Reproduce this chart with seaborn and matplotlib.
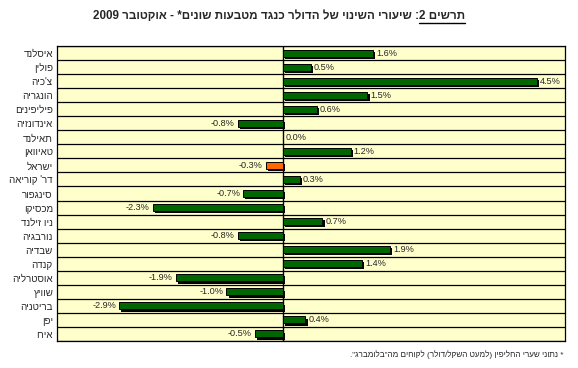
import re
import numpy as np
import pandas as pd
import seaborn as sns
import matplotlib
matplotlib.use("Agg")
import matplotlib.pyplot as plt
import matplotlib.patheffects as pe
from matplotlib.lines import Line2D

countries = ["איסלנד", "פולין", "צ'כיה", "הונגריה", "פיליפינים", "אינדונזיה", "תאילנד",
             "טאיוואן", "ישראל", "דר' קוריאה", "סינגפור", "מכסיקו", "ניו זילנד", "נורבגיה",
             "שבדיה", "קנדה", "אוסטרליה", "שוויץ", "בריטניה", "יפן", "אירו"]
changes = [1.6, 0.5, 4.5, 1.5, 0.6, -0.8, 0.0, 1.2, -0.3, 0.3, -0.7, -2.3, 0.7, -0.8,
           1.9, 1.4, -1.9, -1.0, -2.9, 0.4, -0.5]
highlight = "ישראל"
title_prefix = "תרשים 2"
title_rest = ": שיעורי השינוי של הדולר כנגד מטבעות שונים* - אוקטובר 2009"
footnote = "* נתוני שערי החליפין (למעט השקל/דולר) לקוחים מה\"בלומברג\"."

MIRROR = {"(": ")", ")": "(", "[": "]", "]": "["}


def vis(s):
    """Convert logical-order Hebrew text to visual (left-to-right) order."""
    r = "".join(MIRROR.get(c, c) for c in s[::-1])
    return re.sub(r"[0-9A-Za-z.,%/]*[0-9A-Za-z]", lambda m: m.group(0)[::-1], r)


sns.set_theme(style="white")
FAM = ["Liberation Sans", "DejaVu Sans"]
plt.rcParams["font.family"] = FAM

W, H = 578, 368
fig = plt.figure(figsize=(W / 100, H / 100), dpi=100)
fig.patch.set_facecolor("white")
ax = fig.add_axes([57 / W, (H - 341) / H, (565 - 57) / W, (341 - 46) / H])
ax.set_facecolor("#FFFFCC")

df = pd.DataFrame({"country": countries, "change": changes})
palette = ["#FF6600" if c == highlight else "#006600" for c in countries]
sns.barplot(data=df, y="country", x="change", hue="country", palette=palette,
            legend=False, orient="h", width=0.5, edgecolor="black", linewidth=0.7,
            saturation=1, ax=ax, zorder=3)

for p in ax.patches:
    p.set_path_effects([pe.SimplePatchShadow(offset=(1.6, -1.6), shadow_rgbFace="black", alpha=1.0),
                        pe.Normal()])

n = len(countries)
ax.set_xlim(-4, 5)
ax.set_ylim(n - 0.5, -0.5)
for i in range(n + 1):
    ax.axhline(i - 0.5, color="black", lw=0.9, zorder=1)
ax.axvline(0, color="black", lw=1.0, zorder=2)

ax.set_yticks(range(n))
ax.set_yticklabels([vis(c) for c in countries], fontsize=7)
ax.tick_params(axis="y", length=0, pad=3)
ax.set_xticks([])
ax.set_xlabel("")
ax.set_ylabel("")
for s in ax.spines.values():
    s.set_visible(True)
    s.set_color("black")
    s.set_linewidth(0.9)

for i, v in enumerate(changes):
    if v >= 0:
        ax.annotate(f"{v:.1f}%", xy=(v, i), xytext=(2.2, 0), textcoords="offset points",
                    ha="left", va="center", fontsize=6.6, zorder=5)
    else:
        ax.annotate(f"{v:.1f}%", xy=(v, i), xytext=(-2.2, 0), textcoords="offset points",
                    ha="right", va="center", fontsize=6.6, zorder=5)

# Title (visual order), with underlined prefix on the right
TY = 1 - 16 / H
t_right = fig.text(465 / W, TY, vis(title_prefix), ha="right", va="center",
                   fontsize=8.4, fontweight="bold")
t_left = fig.text(0, TY, vis(title_rest), fontsize=8.4, fontweight="bold",
                  ha="right", va="center")
fig.canvas.draw()
r = fig.canvas.get_renderer()
bb = t_right.get_window_extent(r)
t_left.set_position((bb.x0 / W, TY))
y_ul = (bb.y0 - 0.5) / H
fig.add_artist(Line2D([bb.x0 / W, bb.x1 / W], [y_ul, y_ul], color="black", lw=1.0,
                      transform=fig.transFigure))

# Footnote
fig.text(563 / W, 1 - 355 / H, vis(footnote), ha="right", va="center", fontsize=5.9)

fig.savefig("out.png", dpi=100)
